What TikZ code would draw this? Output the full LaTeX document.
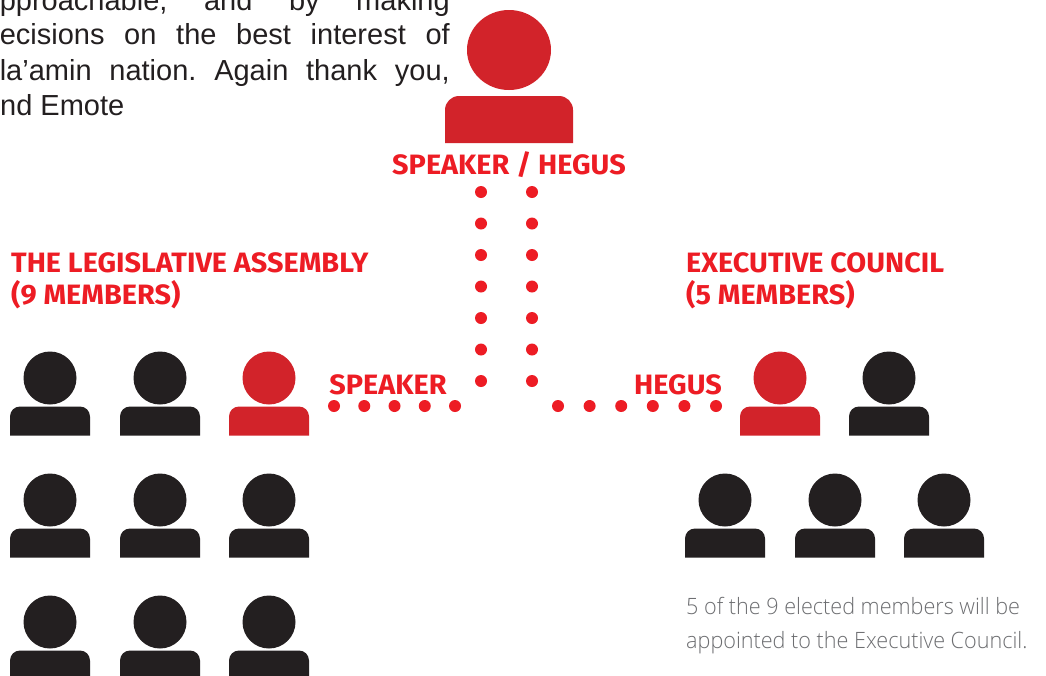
\documentclass[tikz,border=0pt]{standalone}
\usepackage{fontspec}
\setmainfont{Liberation Sans}
\newfontfamily\headfont[FakeStretch=1.03]{Fira Sans}
\newfontfamily\capfont[FakeStretch=0.96]{Open Sans Light}
\definecolor{iconred}{HTML}{D2232A}
\definecolor{textred}{HTML}{ED1C24}
\definecolor{iconblack}{HTML}{231F20}
\definecolor{capgrey}{HTML}{6D6E71}
\frenchspacing
\tikzset{
  person/.pic={
    \fill[pic actions] (0,0) circle (26.5);
    \fill[pic actions] (-40,57.5) [rounded corners=10] -- (-40,28.5) -- (40,28.5) [sharp corners] -- (40,57.5) -- cycle;
  },
  bigperson/.pic={
    \fill[pic actions] (0,0) ellipse [x radius=42, y radius=40];
    \fill[pic actions] (-64,93) [rounded corners=14] -- (-64,46) -- (64,46) [sharp corners] -- (64,93) -- cycle;
  },
  heading/.style={anchor=base west,inner sep=0,text=textred,font=\headfont\bfseries\fontsize{28}{28}\selectfont},
  label/.style={anchor=base,inner sep=0,text=textred,font=\headfont\bfseries\fontsize{28}{28}\selectfont},
  body/.style={anchor=base east,inner sep=0,text=iconblack,font=\fontsize{29}{29}\selectfont},
  caption/.style={anchor=base west,inner sep=0,text=capgrey,font=\capfont\fontsize{22.5}{22.5}\selectfont},
  dots/.style={draw=textred,line width=12,line cap=round,dash pattern=on 0pt off #1}
}
\begin{document}
\begin{tikzpicture}[x=1pt,y=-1pt]
\useasboundingbox (0,0) rectangle (1046,675);
\clip (0,0) rectangle (1046,675);
\fill[white] (0,0) rectangle (1046,675);
% paragraph
\node[body] (l1) at (450,10) {\makebox[450pt][s]{pproachable, and by making}};
\node[body] (l2) at (450,44) {\makebox[450pt][s]{ecisions on the best interest of}};
\node[body] (l3) at (450,80) {\makebox[450pt][s]{la’amin nation. Again thank you,}};
\node[body,anchor=base west] (l4) at (0,115) {nd Emote};
% top
\pic[fill=iconred] (top) at (509,50) {bigperson};
\node[label] (tl) at (509,174) {SPEAKER / HEGUS};
% headings
\node[heading] (h1) at (11,272) {THE LEGISLATIVE ASSEMBLY};
\node[heading] (h1b) at (11,304) {(9 MEMBERS)};
\node[heading] (h2) at (686,272) {EXECUTIVE COUNCIL};
\node[heading] (h2b) at (686,304) {(5 MEMBERS)};
% legislative
\pic[fill=iconblack] (a1) at (50,378) {person};
\pic[fill=iconblack] (a2) at (160,378) {person};
\pic[fill=iconred] (a3) at (269,378) {person};
\pic[fill=iconblack] (a4) at (50,500) {person};
\pic[fill=iconblack] (a5) at (160,500) {person};
\pic[fill=iconblack] (a6) at (269,500) {person};
\pic[fill=iconblack] (a7) at (50,622) {person};
\pic[fill=iconblack] (a8) at (160,622) {person};
\pic[fill=iconblack] (a9) at (269,622) {person};
% executive
\pic[fill=iconred] (e1) at (780,378) {person};
\pic[fill=iconblack] (e2) at (889,378) {person};
\pic[fill=iconblack] (e3) at (725,500) {person};
\pic[fill=iconblack] (e4) at (835,500) {person};
\pic[fill=iconblack] (e5) at (944,500) {person};
% labels
\node[label] (ls) at (388,394) {SPEAKER};
\node[label] (lh) at (678,394) {HEGUS};
% dots
\coordinate (v1a) at (481,192); \coordinate (v1b) at (481,382);
\coordinate (v2a) at (532,192); \coordinate (v2b) at (532,382);
\coordinate (hsa) at (334,406); \coordinate (hsb) at (456,406);
\coordinate (hha) at (558,406); \coordinate (hhb) at (717,406);
\draw[dots=31.5pt] (v1a) -- (v1b);
\draw[dots=31.5pt] (v2a) -- (v2b);
\draw[dots=30.25pt] (hsa) -- (hsb);
\draw[dots=31.6pt] (hha) -- (hhb);
% caption
\node[caption] (c1) at (686,614) {5 of the 9 elected members will be};
\node[caption] (c2) at (686,648) {appointed to the Executive Council.};
\end{tikzpicture}
\end{document}
